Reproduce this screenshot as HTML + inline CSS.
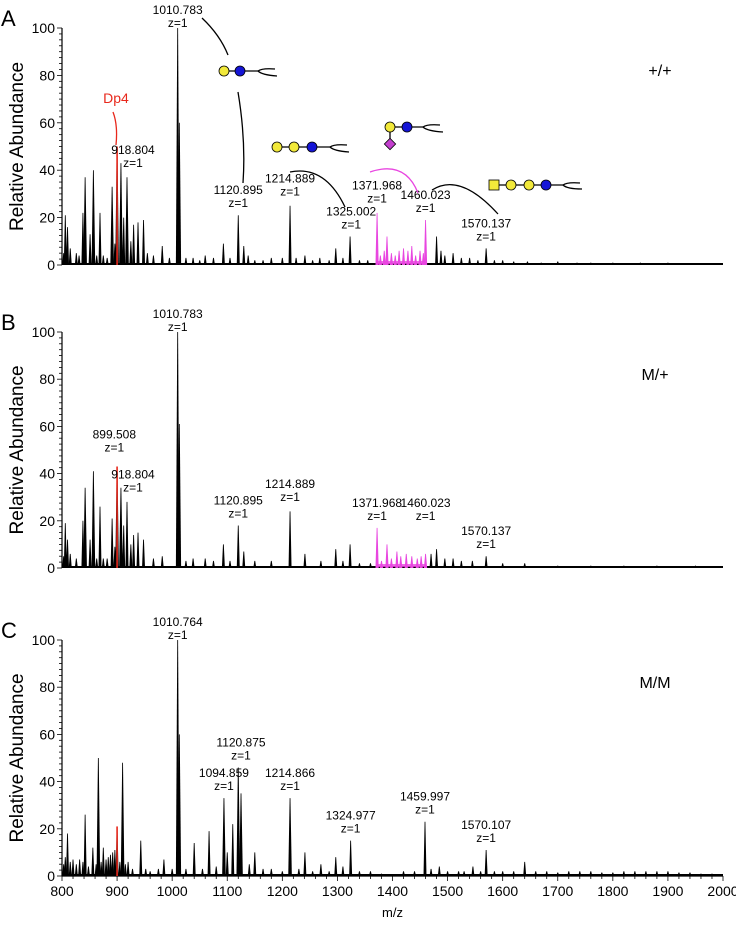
<!DOCTYPE html>
<html><head><meta charset="utf-8">
<style>
body{margin:0;background:#fff;font-family:"Liberation Sans",Arial,sans-serif;}
svg text{font-family:"Liberation Sans",Arial,sans-serif;}
</style></head>
<body>
<svg id="chart" width="736" height="921" viewBox="0 0 736 921" xmlns="http://www.w3.org/2000/svg">
<g id="root"></g>
<g stroke="#000" stroke-width="1.3" fill="none">
  <path d="M202 18 Q220 35 228 55"/>
  <path d="M238 92 Q246 140 243 183"/>
  <path d="M290 172 Q325 165 345 207"/>
  <path d="M432 190 Q460 172 498 214" />
  <path d="M370 172 Q405 160 418 193" stroke="#e846e0"/>
  <path d="M113 112 Q118 125 116 145" stroke="#e8281c"/>
  <line x1="228" y1="71" x2="258" y2="71"/><path d="M258 71 Q262 68 275 69 M258 71 Q262 75 277 76"/>
  <line x1="277" y1="147" x2="330" y2="147"/><path d="M330 147 Q334 144 347 145 M330 147 Q334 151 349 152"/>
  <line x1="390" y1="127" x2="423" y2="127"/><line x1="390" y1="127" x2="390" y2="142"/><path d="M423 127 Q427 124 440 125 M423 127 Q427 131 443 132"/>
  <line x1="494" y1="185" x2="563" y2="185"/><path d="M563 185 Q567 182 580 183 M563 185 Q567 189 582 189"/>
</g>
<g stroke="#000" stroke-width="0.8">
  <circle cx="224" cy="71" r="5" fill="#f2e93a"/><circle cx="240" cy="71" r="5" fill="#1515d6"/>
  <circle cx="277" cy="147" r="5" fill="#f2e93a"/><circle cx="294" cy="147" r="5" fill="#f2e93a"/><circle cx="312" cy="147" r="5" fill="#1515d6"/>
  <circle cx="390" cy="127" r="5" fill="#f2e93a"/><circle cx="407" cy="127" r="5" fill="#1515d6"/>
  <rect x="386" y="140" width="8" height="8" transform="rotate(45 390 144)" fill="#c33fce"/>
  <rect x="489" y="180" width="10" height="10" fill="#f2e93a"/>
  <circle cx="511" cy="185" r="5" fill="#f2e93a"/><circle cx="529" cy="185" r="5" fill="#f2e93a"/><circle cx="546" cy="185" r="5" fill="#1515d6"/>
</g>
<text x="116" y="103" font-size="14" fill="#e8281c" text-anchor="middle">Dp4</text>
</svg>
<script>
const panelNames = ["A","B","C"];
const conditionLabels = ["+/+","M/+","M/M"];
const xTicks = [800,900,1000,1100,1200,1300,1400,1500,1600,1700,1800,1900,2000];
const yTicks = [0,20,40,60,80,100];
const peaksA_mz  = [803,806,810,815,826,831,838,842,851,857,863,869,875,882,891,896,900,907,912,918,925,930,938,948,955,966,982,995,1010,1013,1025,1038,1050,1060,1075,1093,1105,1120,1130,1138,1150,1165,1180,1200,1214,1225,1241,1255,1268,1285,1297,1310,1323,1340,1355,1480,1488,1495,1510,1525,1540,1555,1570,1585,1600,1620,1645,1670,1700,1735,1760,1800,1850,1900,1950];
const peaksA_int = [5,21,16,7,5,4,22,37,13,40,4,22,4,3,33,9,50,43,20,37,10,17,18,19,5,4,8,3,100,60,3,3,2,4,3,9,3,21,8,4,2,2,3,3,25,3,4,2,3,2,7,3,12,2,2,12,6,4,5,3,3,2,7,2,2,1.5,1.5,1,1.5,1,1,1,1,1,0.6];
const magA_mz  = [1372,1378,1385,1390,1398,1405,1412,1420,1428,1435,1442,1450,1456,1460];
const magA_int = [22,4,6,12,5,4,6,7,6,8,4,6,5,19];
const peaksB_mz  = [803,806,810,815,826,838,842,851,857,863,869,875,882,891,896,900,907,912,918,925,930,938,948,966,982,1010,1013,1025,1038,1060,1075,1093,1105,1120,1130,1150,1180,1214,1241,1270,1297,1310,1323,1340,1360,1470,1480,1495,1510,1525,1545,1570,1600,1640,1700,1760,1820,1880,1950];
const peaksB_int = [5,19,12,6,4,20,34,12,41,4,26,4,4,21,9,43,34,18,28,10,14,15,12,4,5,100,61,3,4,4,3,10,3,18,7,3,3,24,6,3,8,3,10,2,2,6,8,4,4,3,3,5,2,2,1,1,1,1,1];
const magB_mz  = [1372,1380,1390,1398,1408,1415,1425,1435,1445,1452,1460];
const magB_int = [17,3,10,4,7,5,6,5,4,5,6];
const peaksC_mz  = [803,806,810,815,820,826,832,838,842,848,856,862,866,871,875,880,884,888,892,896,900,905,910,915,920,928,943,952,960,975,985,1000,1010,1013,1025,1040,1055,1067,1080,1094,1100,1110,1120,1125,1140,1150,1165,1180,1200,1214,1230,1241,1255,1270,1285,1297,1310,1324,1340,1360,1380,1420,1440,1459,1470,1485,1500,1520,1530,1546,1560,1570,1585,1600,1620,1640,1660,1680,1700,1720,1740,1760,1780,1800,1820,1840,1860,1880,1900,1920,1940,1960,1980];
const peaksC_int = [5,8,18,6,7,5,7,6,26,4,12,5,50,6,12,7,8,9,10,11,21,6,48,5,6,3,15,3,2,3,7,3,100,60,3,14,3,19,4,33,10,22,46,35,5,10,3,3,2,33,3,10,2,5,2,8,4,15,2,2,1,2,2,23,3,4,2,2,2,4,2,11,2,2,2,6,2,2,1.5,2,2,2,1.5,1.5,2,2,2,2,2,1.5,1.5,1,1];
const labelsA = [["918.804",918,41],["1010.783",1010,100],["1120.895",1120,24],["1214.889",1214,29],["1325.002",1325,15],["1371.968",1372,26],["1460.023",1460,22],["1570.137",1570,10]];
const labelsB = [["899.508",895,49],["918.804",918,32],["1010.783",1010,100],["1120.895",1120,21],["1214.889",1214,28],["1371.968",1372,20],["1460.023",1460,20],["1570.137",1570,8]];
const labelsC = [["1010.764",1010,100],["1094.859",1094,36],["1120.875",1125,49],["1214.866",1214,36],["1324.977",1324,18],["1459.997",1459,26],["1570.107",1570,14]];

const X0=62, X1=723, MZ0=800, MZ1=2000;
const panels=[{y0:265,y100:28},{y0:568,y100:332},{y0:876,y100:640}];
const xs = mz => X0+(mz-MZ0)*(X1-X0)/(MZ1-MZ0);
const NS="http://www.w3.org/2000/svg";
const root=document.getElementById('root');
function mk(tag,attrs,parent){const e=document.createElementNS(NS,tag);for(const k in attrs)e.setAttribute(k,attrs[k]);(parent||root).appendChild(e);return e;}

const allPeaks=[[peaksA_mz,peaksA_int,magA_mz,magA_int,labelsA],[peaksB_mz,peaksB_int,magB_mz,magB_int,labelsB],[peaksC_mz,peaksC_int,[],[],labelsC]];

panels.forEach((p,pi)=>{
  const ys=v=>p.y0-(v/100)*(p.y0-p.y100);
  const g=mk('g',{});
  
  
  const letter=mk('text',{x:1,y:p.y100-2,'font-size':22},g); letter.textContent=panelNames[pi];
  
  
  const cond=mk('text',{x:pi==0?660:655,y:p.y100+48,'font-size':16,'text-anchor':'middle'},g); cond.textContent=conditionLabels[pi];
  
  
  const yt=mk('text',{x:0,y:0,'font-size':19,'text-anchor':'middle',transform:`translate(23 ${(p.y0+p.y100)/2}) rotate(-90)`},g); yt.textContent="Relative Abundance";
  
  
  const ax=mk('line',{x1:X0,x2:X0,y1:p.y100,y2:p.y0,stroke:'#000','stroke-width':1.2},g);
  
  
  for(let v=0;v<=100;v+=2.5){mk('line',{x1:X0-(v%20==0?5:3),x2:X0,y1:ys(v),y2:ys(v),stroke:'#000','stroke-width':0.8},g);}
  yTicks.forEach(v=>{const t=mk('text',{x:X0-7,y:ys(v)+5,'font-size':14,'text-anchor':'end'},g);t.textContent=v;
    
    });
  mk('line',{x1:X0,x2:X1,y1:p.y0-1,y2:p.y0-1,stroke:'#000','stroke-width':2},g);
  if(pi==2){
    const xa=mk('line',{x1:X0,x2:X1,y1:p.y0,y2:p.y0,stroke:'#000','stroke-width':1.2},g);
    
    
    for(let m=800;m<=2000;m+=20){mk('line',{x1:xs(m),x2:xs(m),y1:p.y0,y2:p.y0+(m%100==0?5:3),stroke:'#000','stroke-width':0.8},g);}
    xTicks.forEach(m=>{const t=mk('text',{x:xs(m),y:p.y0+20,'font-size':14,'text-anchor':'middle'},g);t.textContent=m;
      
      });
    const xt=mk('text',{x:xs(1400),y:917,'font-size':13,'text-anchor':'middle'},g);xt.textContent="m/z";
    
    
  }
  const [mzs,ints,mmz,mint,labs]=allPeaks[pi];
  const drawPeak=(mz,v,col,w)=>{const x=xs(mz);const pk=mk('path',{d:`M${x-w} ${p.y0} L${x-0.4} ${ys(v)} L${x+0.4} ${ys(v)} L${x+w} ${p.y0} Z`,fill:col},g);
    
    };
  mzs.forEach((m,i)=>drawPeak(m,ints[i],'#000',ints[i]>30?1.8:1.5));
  mmz.forEach((m,i)=>drawPeak(m,mint[i],'#e846e0',1.6));
  if(mmz.length){mk('rect',{x:xs(1372),y:p.y0-4,width:xs(1460)-xs(1372),height:3,fill:'#e846e0','fill-opacity':0.8},g);}
  const red=mk('line',{x1:xs(900),x2:xs(900),y1:p.y0,y2:ys(pi==0?50:pi==1?43:21),stroke:'#e8281c','stroke-width':1.6},g);
  
  
  labs.forEach(([txt,mz,v])=>{
    const x=xs(mz)+(txt=="918.804"?6:0), y=ys(v);
    const t1=mk('text',{x:x,y:y-14,'font-size':12,'text-anchor':'middle'},g);t1.textContent=txt;
    
    
    const t2=mk('text',{x:x,y:y-1,'font-size':12,'text-anchor':'middle'},g);t2.textContent="z=1";
    
    
  });
});
</script>
</body></html>
